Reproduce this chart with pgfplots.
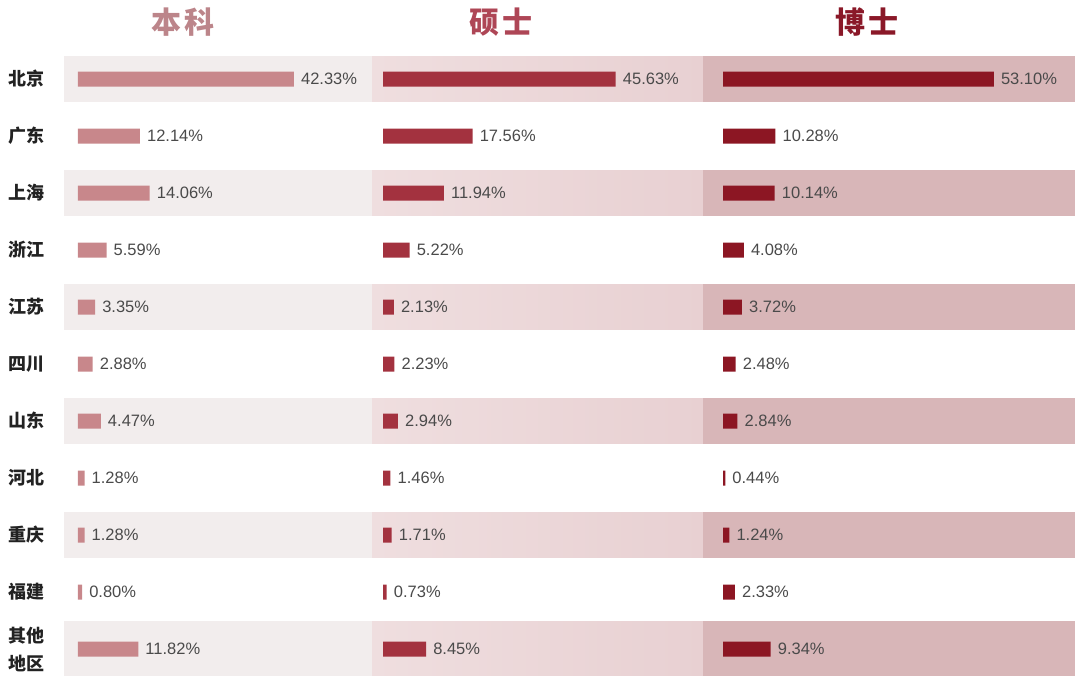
\documentclass[border=0pt]{standalone}
\usepackage{pgfplots}
\usepackage{pgfplotstable}
\pgfplotsset{compat=1.18}
\usepackage{fontspec}
\setmainfont{Liberation Sans}
\newfontfamily\cjk{Noto Sans CJK SC}

\definecolor{bandA}{HTML}{F2EDED}
\definecolor{bandBl}{HTML}{EFDEDF}
\definecolor{bandBr}{HTML}{E8D0D2}
\definecolor{bandC}{HTML}{D8B6B8}
\definecolor{barA}{HTML}{C8878B}
\definecolor{barB}{HTML}{A3323F}
\definecolor{barC}{HTML}{8C1623}
\definecolor{titleA}{HTML}{BC858A}
\definecolor{titleB}{HTML}{AE4656}
\definecolor{titleC}{HTML}{8A1828}
\definecolor{labc}{HTML}{222222}
\definecolor{valc}{HTML}{4A4A4A}

% row  ben   shuo  bo
\pgfplotstableread{
row ben shuo bo
1 42.33 45.63 53.10
2 12.14 17.56 10.28
3 14.06 11.94 10.14
4 5.59 5.22 4.08
5 3.35 2.13 3.72
6 2.88 2.23 2.48
7 4.47 2.94 2.84
8 1.28 1.46 0.44
9 1.28 1.71 1.24
10 0.80 0.73 2.33
11 11.82 8.45 9.34
}\datatable

\pgfplotsset{
  panel/.style={
    scale only axis, height=683pt,
    ymin=-0.386, ymax=11.596, y dir=reverse,
    clip=false,
    axis line style={draw=none}, tick style={draw=none},
    xtick=\empty, ytick=\empty,
  },
  bars/.style={
    xbar, bar width=15pt, bar shift=0pt, draw=none, fill=#1,
    point meta=x,
    nodes near coords={\pgfmathprintnumber[fixed,fixed zerofill,precision=2,assume math mode=true]{\pgfplotspointmeta}\%},
    nodes near coords style={anchor=west, inner sep=0pt, xshift=7pt,
      font=\fontsize{16.5}{19}\selectfont, text=valc},
  },
}
\tikzset{ttl/.style={font=\cjk\bfseries\fontsize{30}{30}\selectfont, text=#1}}

\begin{document}
\begin{tikzpicture}
% 本科
\begin{axis}[panel, at={(64pt,0pt)}, anchor=north west, width=308pt,
  xmin=-2.745, xmax=57.647,
  ytick={1,...,11},
  yticklabels={北京,广东,上海,浙江,江苏,四川,山东,河北,重庆,福建,{其他\\地区}},
  yticklabel style={font=\cjk\bfseries\fontsize{18}{28}\selectfont, text=labc,
    anchor=west, align=left, inner sep=0pt, xshift=-56pt}]
\pgfplotsinvokeforeach{1,3,5,7,9}{
  \fill[bandA] (axis cs:-2.745,#1-0.4) rectangle (axis cs:57.647,#1+0.4);}
\fill[bandA] (axis cs:-2.745,10.51) rectangle (axis cs:57.647,11.47);
\addplot[bars=barA] table[x=ben, y=row] {\datatable};
\node[ttl=titleA] at (axis cs:20.6,0) {本\hspace{3pt}科};
\end{axis}
% 硕士
\begin{axis}[panel, at={(372pt,0pt)}, anchor=north west, width=331pt,
  xmin=-2.157, xmax=62.745]
\pgfplotsinvokeforeach{1,3,5,7,9}{
  \fill[left color=bandBl, right color=bandBr] (axis cs:-2.157,#1-0.4) rectangle (axis cs:62.745,#1+0.4);}
\fill[left color=bandBl, right color=bandBr] (axis cs:-2.157,10.51) rectangle (axis cs:62.745,11.47);
\addplot[bars=barB] table[x=shuo, y=row] {\datatable};
\node[ttl=titleB] at (axis cs:23.2,0) {硕\hspace{3pt}士};
\end{axis}
% 博士
\begin{axis}[panel, at={(703pt,0pt)}, anchor=north west, width=372pt,
  xmin=-3.922, xmax=69.02]
\pgfplotsinvokeforeach{1,3,5,7,9}{
  \fill[bandC] (axis cs:-3.922,#1-0.4) rectangle (axis cs:69.02,#1+0.4);}
\fill[bandC] (axis cs:-3.922,10.51) rectangle (axis cs:69.02,11.47);
\addplot[bars=barC] table[x=bo, y=row] {\datatable};
\node[ttl=titleC] at (axis cs:28.3,0) {博\hspace{3pt}士};
\end{axis}
\pgfresetboundingbox
\path[use as bounding box] (0,0) rectangle (1080pt,-683pt);
\end{tikzpicture}
\end{document}
